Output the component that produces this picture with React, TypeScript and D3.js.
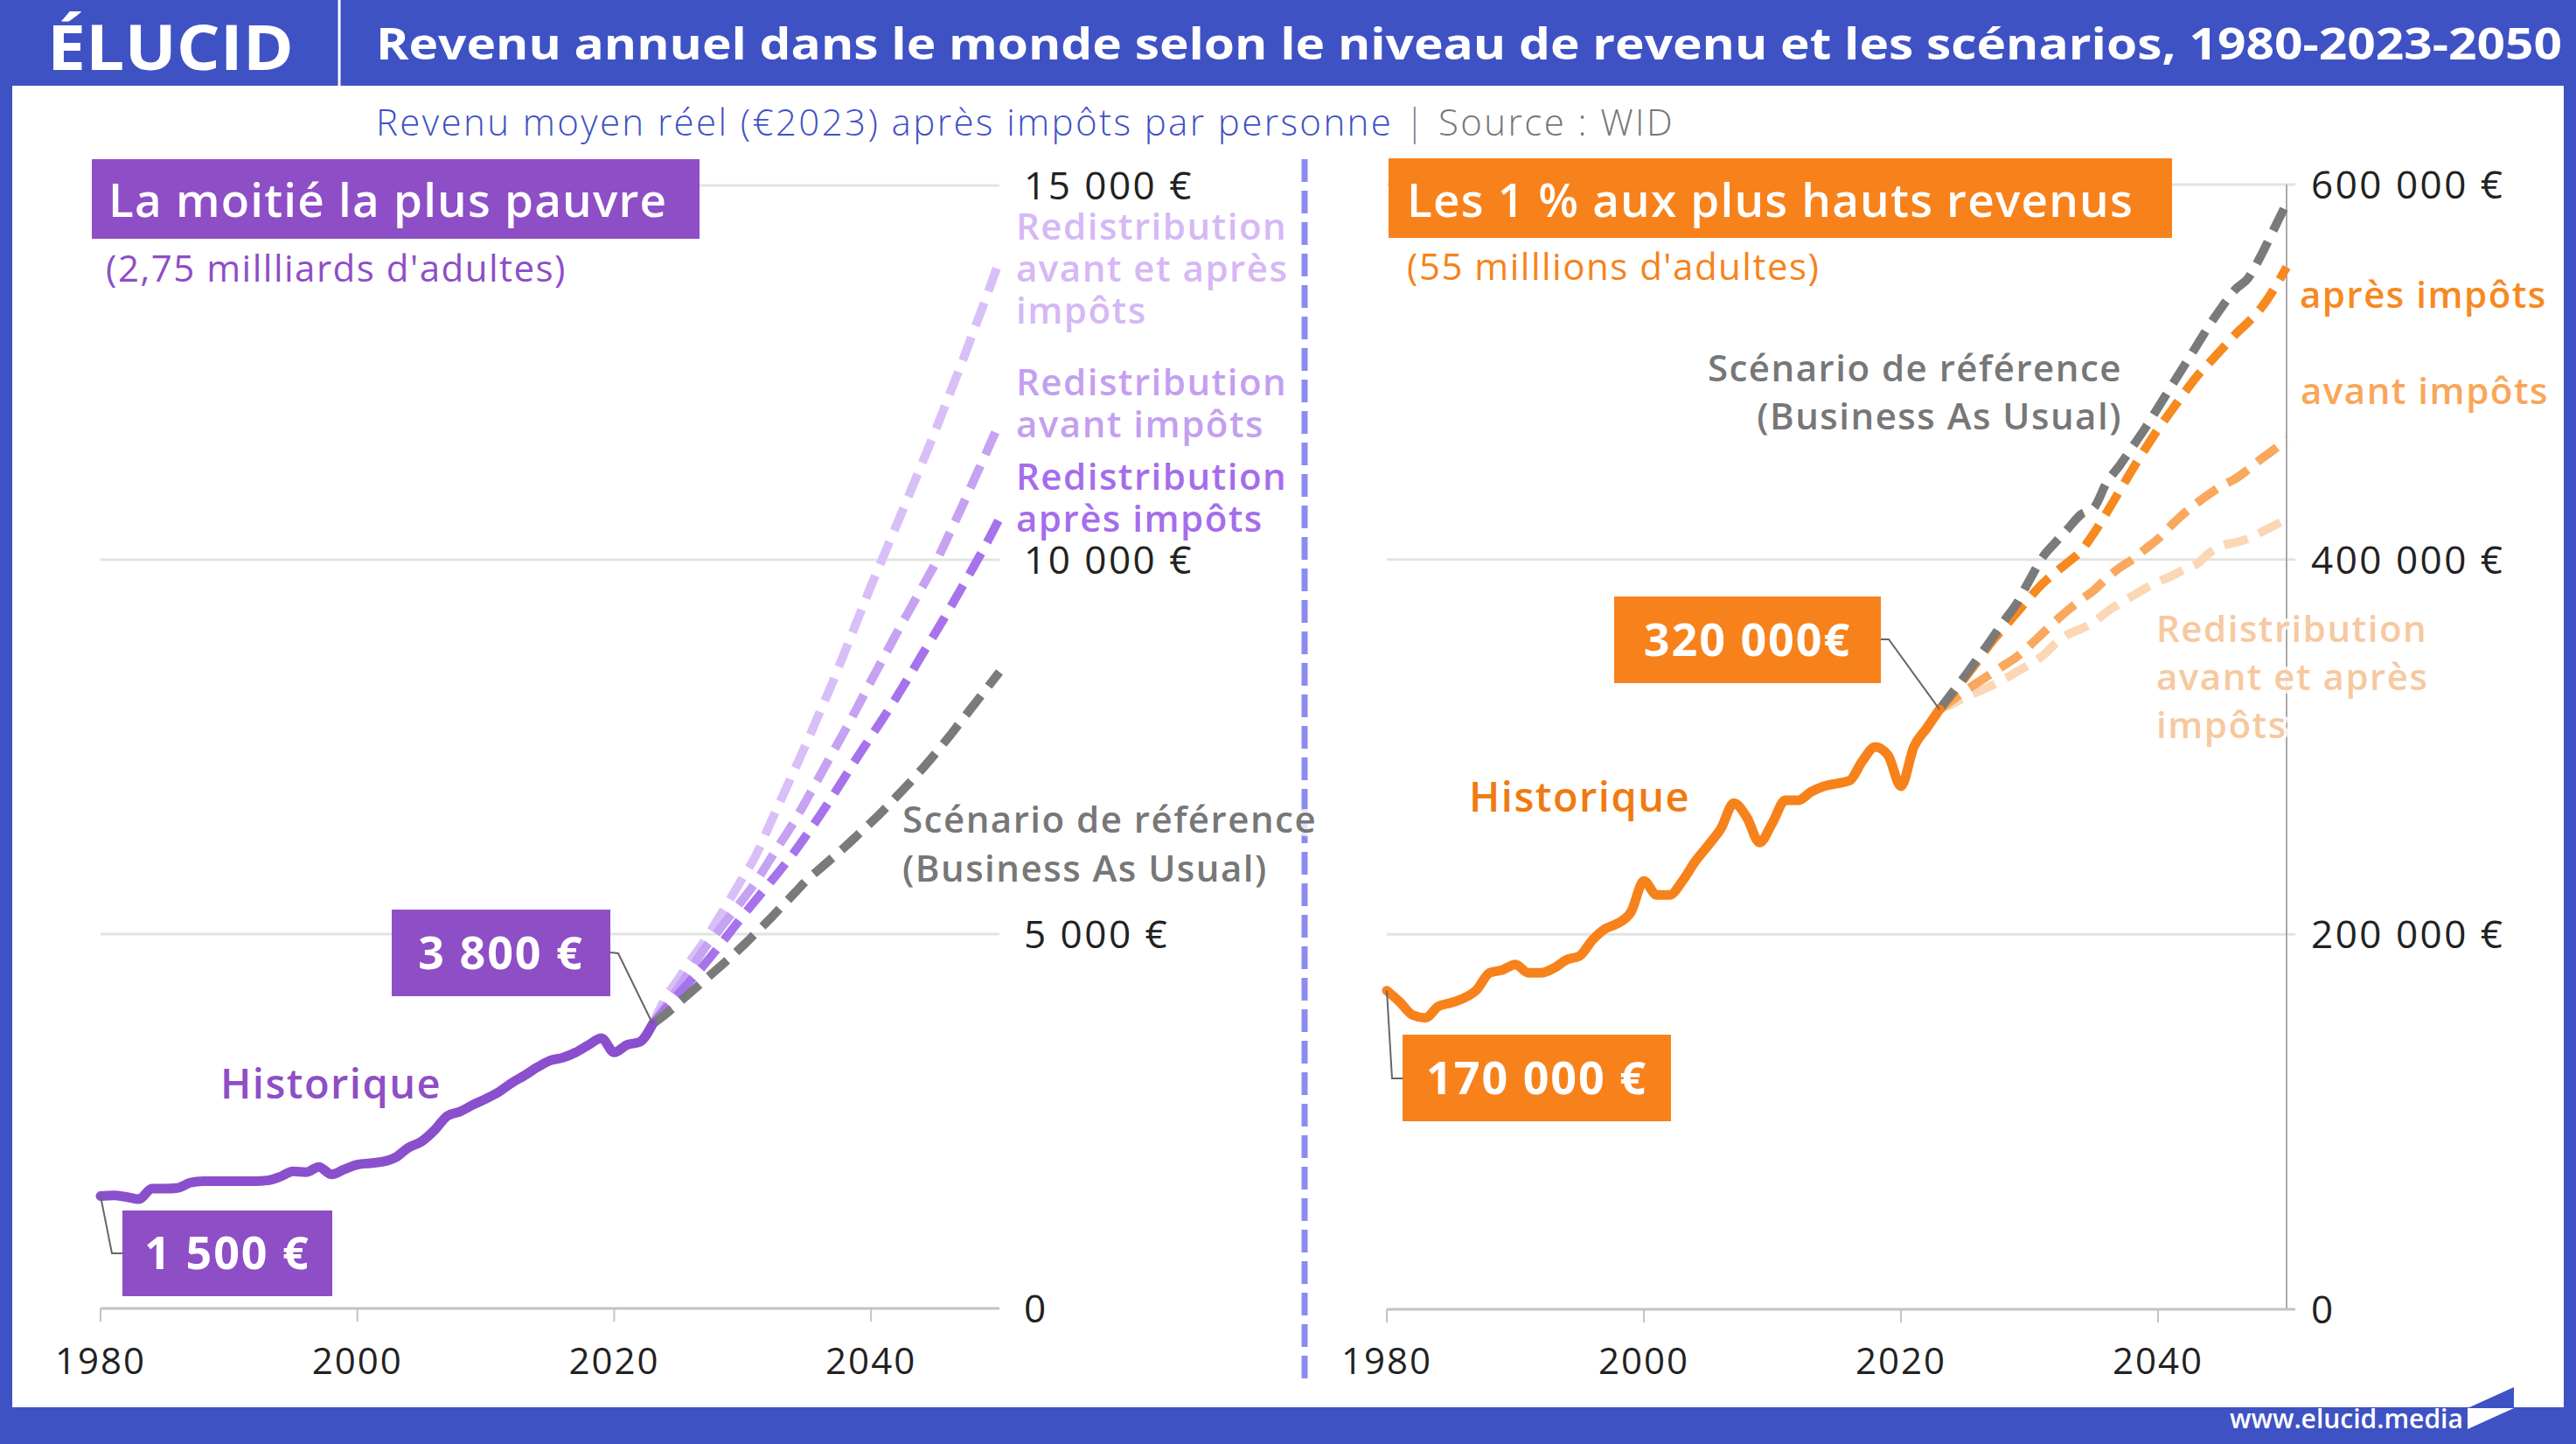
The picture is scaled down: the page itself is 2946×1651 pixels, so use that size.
import React, { useEffect } from "react";
import * as d3 from "d3";

// historical series, one value per year 1980-2023
const histYears = d3.range(1980, 2024);
const bottomHalfHist = [
  1500, 1510, 1490, 1460, 1600, 1600, 1610, 1680, 1700, 1700,
  1700, 1700, 1700, 1710, 1760, 1830, 1820, 1890, 1790, 1860,
  1920, 1940, 1960, 2020, 2150, 2230, 2380, 2570, 2630, 2720,
  2800, 2890, 3010, 3110, 3220, 3310, 3350, 3420, 3520, 3610,
  3420, 3520, 3560, 3800,
];
const topOneHist = [
  170000, 164000, 157000, 155500, 161500, 163500, 166000, 170500, 179500, 181000,
  184000, 179500, 179500, 182000, 186500, 188500, 197000, 203000, 206000, 212000,
  228500, 221000, 221000, 228500, 239000, 247500, 256500, 270000, 262500, 249000,
  259500, 271500, 271500, 276000, 279000, 280500, 282000, 292500, 300000, 295500,
  279000, 300000, 310000, 320000,
];

// scenarios, one value per year 2023-2050
const projYears = d3.range(2023, 2051);
const bottomBau = [
  3800, 3930, 4080, 4230, 4380, 4530, 4680, 4840, 5010, 5180,
  5360, 5540, 5720, 5870, 6020, 6170, 6330, 6490, 6660, 6840,
  7020, 7210, 7410, 7620, 7840, 8060, 8280, 8500,
];
const bottomAfterTax = [
  3800, 4000, 4200, 4390, 4590, 4800, 5020, 5240, 5450, 5660,
  5870, 6090, 6330, 6580, 6840, 7110, 7380, 7640, 7900, 8170,
  8450, 8740, 9020, 9310, 9610, 9910, 10220, 10550,
];
const bottomBeforeTax = [
  3800, 4040, 4280, 4540, 4800, 5020, 5240, 5460, 5690, 5960,
  6230, 6500, 6800, 7110, 7420, 7730, 8050, 8380, 8700, 9020,
  9330, 9640, 9950, 10310, 10680, 11060, 11440, 11830,
];
const bottomBoth = [
  3800, 4150, 4400, 4660, 4900, 5180, 5460, 5750, 6040, 6420,
  6800, 7180, 7560, 7960, 8360, 8790, 9220, 9650, 10060, 10470,
  10880, 11300, 11720, 12160, 12600, 13060, 13520, 14000,
];
const topBau = [
  320000, 329000, 338000, 347500, 357000, 367000, 376500, 389000, 401000, 409000,
  416500, 424000, 427500, 441000, 450000, 460000, 470000, 481000, 492000, 503000,
  514000, 525000, 535000, 544000, 550000, 562000, 576000, 590000,
];
const topAfterTax = [
  320000, 328000, 337000, 346000, 355500, 363500, 371500, 379500, 387000, 393000,
  398500, 404500, 414000, 425000, 436500, 448000, 459000, 469500, 479000, 488500,
  497500, 505000, 512500, 520000, 526500, 534000, 544000, 556000,
];
const topBeforeTax = [
  320000, 325000, 330000, 334500, 339000, 343500, 348000, 354000, 360500, 367000,
  373000, 378500, 383500, 390000, 395500, 400000, 405500, 411000, 418000, 424500,
  430000, 435000, 439500, 443000, 448000, 453500, 458500, 464000,
];
const topBoth = [
  320000, 323000, 326500, 329500, 332500, 336000, 340000, 344000, 348500, 355000,
  360000, 363000, 366500, 372000, 376500, 380500, 384500, 388000, 391000, 394500,
  397500, 403500, 407500, 409000, 411000, 414500, 418000, 421500,
];

const yearTicks = [1980, 2000, 2020, 2040];
const bottomTicks = [0, 5000, 10000, 15000];
const topTicks = [0, 200000, 400000, 600000];

const W = 2946;
const H = 1651;
const BLUE = "#3f52c4";
const PURPLE = "#8e4ec6";
const ORANGE = "#f7821b";
const GREY = "#777777";
const FONT = "'Open Sans', Lato, sans-serif";

const fmt = (v: number) =>
  v === 0 ? "0" : d3.format(",")(v).replace(/,/g, " ") + " €";

type Scn = { values: number[]; color: string };

function Panel(props: {
  x: d3.ScaleLinear<number, number>;
  y: d3.ScaleLinear<number, number>;
  ticks: number[];
  hist: number[];
  histColor: string;
  scenarios: Scn[];
  showAxis: boolean;
}) {
  const { x, y, ticks, hist, histColor, scenarios, showAxis } = props;
  const [x0, x1] = x.range();
  const y0 = y(0);
  const line = d3
    .line<[number, number]>()
    .x((d) => x(d[0]))
    .y((d) => y(d[1]))
    .curve(d3.curveMonotoneX);
  const histPts = histYears.map((yr, i) => [yr, hist[i]] as [number, number]);
  const gridEnd = showAxis ? x1 + 10 : x1;
  return (
    <g>
      {ticks.slice(1).map((t) => (
        <line key={t} x1={x0} x2={gridEnd} y1={y(t)} y2={y(t)} stroke="#e3e3e3" strokeWidth={3} />
      ))}
      {ticks.map((t) => (
        <text key={"l" + t} x={x1 + 28} y={y(t) + 16} fontSize={44} letterSpacing={2.5} fill="#222">
          {fmt(t)}
        </text>
      ))}
      {showAxis && (
        <line x1={x1} x2={x1} y1={y(ticks[ticks.length - 1])} y2={y0} stroke="#aaa" strokeWidth={2} />
      )}
      <line x1={x0} x2={gridEnd} y1={y0} y2={y0} stroke="#c4c4c4" strokeWidth={3} />
      {yearTicks.map((t) => (
        <g key={t}>
          <line x1={x(t)} x2={x(t)} y1={y0} y2={y0 + 15} stroke="#c4c4c4" strokeWidth={2} />
          <text x={x(t)} y={1571} fontSize={42} letterSpacing={2} textAnchor="middle" fill="#222">
            {t}
          </text>
        </g>
      ))}
      {scenarios.map((s, k) => (
        <path
          key={k}
          d={line(projYears.map((yr, i) => [yr, s.values[i]] as [number, number])) || ""}
          fill="none"
          stroke={s.color}
          strokeWidth={10}
          strokeDasharray="28 14"
        />
      ))}
      <path
        d={line(histPts) || ""}
        fill="none"
        stroke={histColor}
        strokeWidth={11}
        strokeLinejoin="round"
        strokeLinecap="round"
      />
    </g>
  );
}

function Callout(props: {
  box: [number, number, number, number];
  text: string;
  color: string;
  path: string;
}) {
  const [bx, by, bw, bh] = props.box;
  return (
    <g>
      <path d={props.path} fill="none" stroke="#666" strokeWidth={2} />
      <rect x={bx} y={by} width={bw} height={bh} fill={props.color} />
      <text
        x={bx + bw / 2}
        y={by + bh / 2 + 18}
        fontSize={52}
        fontWeight={700}
        letterSpacing={2}
        fill="#fff"
        textAnchor="middle"
      >
        {props.text}
      </text>
    </g>
  );
}

function Label(props: {
  x: number;
  y: number;
  lines: string[];
  color: string;
  anchor?: "start" | "end";
  step?: number;
  size?: number;
}) {
  const step = props.step || 48;
  return (
    <text
      x={props.x}
      y={props.y}
      fill={props.color}
      fontSize={props.size || 42}
      fontWeight={600}
      letterSpacing={1.5}
      textAnchor={props.anchor || "start"}
      stroke="rgba(255,255,255,0.8)"
      strokeWidth={8}
      paintOrder="stroke"
    >
      {props.lines.map((l, i) => (
        <tspan key={i} x={props.x} dy={i === 0 ? 0 : step}>
          {l}
        </tspan>
      ))}
    </text>
  );
}

export default function App() {
  useEffect(() => {
    document.body.style.margin = "0";
  }, []);

  const xL = d3.scaleLinear().domain([1980, 2050]).range([115, 1143]);
  const yL = d3.scaleLinear().domain([0, 15000]).range([1496, 212]);
  const xR = d3.scaleLinear().domain([1980, 2050]).range([1586, 2615]);
  const yR = d3.scaleLinear().domain([0, 600000]).range([1497, 211]);

  const pL0 = [xL(1980), yL(bottomHalfHist[0])];
  const pL1 = [xL(2023), yL(bottomHalfHist[43])];
  const pR0 = [xR(1980), yR(topOneHist[0])];
  const pR1 = [xR(2023), yR(topOneHist[43])];

  return (
    <svg width={W} height={H} style={{ display: "block" }} fontFamily={FONT}>
      <rect width={W} height={H} fill="#fff" />

      <Panel
        x={xL}
        y={yL}
        ticks={bottomTicks}
        hist={bottomHalfHist}
        histColor="#8a4fcc"
        showAxis={false}
        scenarios={[
          { values: bottomBoth, color: "#d9bff8" },
          { values: bottomBeforeTax, color: "#c6a2f2" },
          { values: bottomAfterTax, color: "#a773ec" },
          { values: bottomBau, color: "#7a7a7a" },
        ]}
      />
      <Panel
        x={xR}
        y={yR}
        ticks={topTicks}
        hist={topOneHist}
        histColor="#f7821b"
        showAxis={true}
        scenarios={[
          { values: topBoth, color: "#fbd7b6" },
          { values: topBeforeTax, color: "#f9a85e" },
          { values: topAfterTax, color: "#f7891f" },
          { values: topBau, color: "#7a7a7a" },
        ]}
      />

      {/* divider between the two panels */}
      <line x1={1492} x2={1492} y1={182} y2={1580} stroke="#8c8cf0" strokeWidth={7} strokeDasharray="26 10" />

      {/* panel headings */}
      <rect x={105} y={182} width={695} height={91} fill={PURPLE} />
      <text x={124} y={248} fontSize={53} fontWeight={600} letterSpacing={1.2} fill="#fff">La moitié la plus pauvre</text>
      <text x={121} y={322} fontSize={42} letterSpacing={1.5} fill={PURPLE}>(2,75 millliards d'adultes)</text>

      <rect x={1588} y={181} width={896} height={91} fill={ORANGE} />
      <text x={1609} y={248} fontSize={53} fontWeight={600} letterSpacing={1.2} fill="#fff">Les 1 % aux plus hauts revenus</text>
      <text x={1609} y={320} fontSize={42} letterSpacing={1.5} fill={ORANGE}>(55 milllions d'adultes)</text>

      {/* series labels, left panel */}
      <Label x={1162} y={274} lines={["Redistribution", "avant et après", "impôts"]} color="#d5b8f5" />
      <Label x={1162} y={452} lines={["Redistribution", "avant impôts"]} color="#c49ff0" />
      <Label x={1162} y={560} lines={["Redistribution", "après impôts"]} color="#a56deb" />
      <Label x={1032} y={952} lines={["Scénario de référence", "(Business As Usual)"]} color={GREY} step={56} />
      <text x={252} y={1256} fontSize={47} fontWeight={600} letterSpacing={1.5} fill={PURPLE}>Historique</text>

      {/* series labels, right panel */}
      <Label x={2427} y={436} lines={["Scénario de référence", "(Business As Usual)"]} color={GREY} anchor="end" step={55} />
      <Label x={2630} y={352} lines={["après impôts"]} color="#f7891f" />
      <Label x={2631} y={462} lines={["avant impôts"]} color="#f9a65a" />
      <Label x={2466} y={734} lines={["Redistribution", "avant et après", "impôts"]} color="#f6c9a0" step={55} />
      <text x={1680} y={928} fontSize={47} fontWeight={600} letterSpacing={1.5} fill="#f07a10">Historique</text>

      {/* value callouts */}
      <Callout
        box={[448, 1040, 250, 99]}
        text={fmt(3800)}
        color={PURPLE}
        path={`M698,1089 L707,1090 L${pL1[0]},${pL1[1]}`}
      />
      <Callout
        box={[140, 1384, 240, 98]}
        text={fmt(1500)}
        color={PURPLE}
        path={`M${pL0[0]},${pL0[1]} L128,1433 L140,1433`}
      />
      <Callout
        box={[1846, 682, 305, 99]}
        text="320 000€"
        color={ORANGE}
        path={`M2151,731 L2160,731 L${pR1[0]},${pR1[1]}`}
      />
      <Callout
        box={[1604, 1183, 307, 99]}
        text={fmt(170000)}
        color={ORANGE}
        path={`M${pR0[0]},${pR0[1]} L1592,1233 L1604,1233`}
      />

      {/* frame */}
      <rect x={0} y={0} width={W} height={98} fill={BLUE} />
      <rect x={0} y={0} width={14} height={H} fill={BLUE} />
      <rect x={2932} y={0} width={14} height={H} fill={BLUE} />
      <rect x={0} y={1609} width={W} height={42} fill={BLUE} />
      <line x1={388} x2={388} y1={0} y2={98} stroke="#fff" strokeWidth={3} />
      <text x={54} y={80} fontSize={72} fontWeight={700} fill="#fff" textLength={282} lengthAdjust="spacingAndGlyphs">
        ÉLUCID
      </text>
      <text x={430} y={68} fontSize={50} fontWeight={700} fill="#fff" textLength={2500} lengthAdjust="spacingAndGlyphs">
        Revenu annuel dans le monde selon le niveau de revenu et les scénarios, 1980-2023-2050
      </text>
      <text x={430} y={155} fontSize={42} fontWeight={300} letterSpacing={2.4}>
        <tspan fill={BLUE}>Revenu moyen réel (€2023) après impôts par personne</tspan>
        <tspan fill="#888">{"  |  "}</tspan>
        <tspan fill="#777">Source : WID</tspan>
      </text>

      {/* footer */}
      <text x={2550} y={1633} fontSize={30} fontWeight={600} fill="#fff">www.elucid.media</text>
      <polygon points="2822,1610 2875,1586 2875,1610" fill={BLUE} />
      <polygon points="2822,1610 2875,1610 2822,1634" fill="#fff" />
    </svg>
  );
}
